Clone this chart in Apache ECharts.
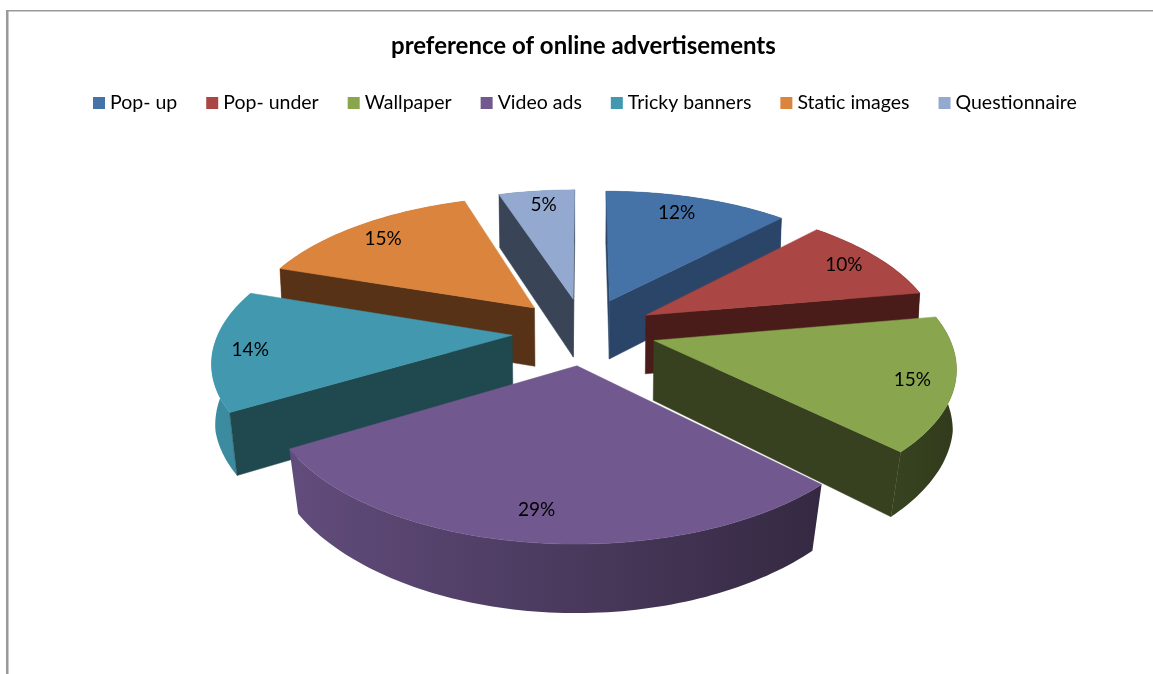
<!DOCTYPE html>
<html>
<head>
<meta charset="utf-8">
<style>html,body{margin:0;padding:0;background:#fff}#chart{width:1153px;height:674px}</style>
<script src="https://cdn.jsdelivr.net/npm/echarts@6/dist/echarts.min.js"></script>
</head>
<body>
<div id="chart"></div>
<script>
// Chart content
const chartTitle = 'preference of online advertisements';
const categories = ['Pop- up', 'Pop- under', 'Wallpaper', 'Video ads', 'Tricky banners', 'Static images', 'Questionnaire'];
const shares = [12, 10, 15, 29, 14, 15, 5];

// Slice styling: top face, cut-face colour, stacking order (back slices first)
const topColors = ['#4572a7', '#aa4643', '#89a54e', '#71588f', '#4198af', '#db843d', '#93a9cf'];
const cutColors = ['#2a4567', '#491b19', '#37401f', '#2e2340', '#20484f', '#583216', '#394556'];
const paintOrder = [2, 4, 6, 7, 5, 3, 1];
// Small pixel adjustments so each percentage sits clear of the slice edges
const labelNudge = [[-8, 0], [3, 0], [7, 5], [-11, 0], [-11, 0], [-1, 1], [2, -1]];

// Exploded pie projection
const view = {
  cx: 584, cy: 331, radius: 293, explode: 72, tilt: 0.466, depth: 1800,
  frontTurn: 2 * Math.PI / 180,
  floorXSide: 0.99, floorXSideAt: 370, floorXFalloff: 0.00025,
  floorYScale: 1.045, floorYRef: 300, floorYAt: 358,
  labelAt: 0.84, shadeFrom: 212, shadeTo: 957, shadeLeft: 0.92, shadeRight: 0.36
};

const total = shares.reduce((a, b) => a + b, 0);

function project(x, y) {
  const s = 1 / (1 + y / view.depth);
  return [view.cx + x * s, view.cy - view.tilt * y * s];
}
// Maps a point of the top surface to the matching point on the underside;
// nearer points converge a little more toward the centre line
function toFloor(p) {
  const fx = Math.min(view.floorXSide, view.floorXSide - view.floorXFalloff * (p[1] - view.floorXSideAt));
  return [
    view.cx + (p[0] - view.cx) * fx,
    view.floorYAt + (p[1] - view.floorYRef) * view.floorYScale
  ];
}
// The perspective of the rim pulls angles on the near side slightly clockwise
function rimAngle(a) {
  return a + view.frontTurn * (1 - Math.cos(a)) / 2;
}
function scaleColor(hex, f) {
  const n = parseInt(hex.slice(1), 16);
  const c = [n >> 16, (n >> 8) & 255, n & 255].map(v => Math.round(v * f));
  return 'rgb(' + c.join(',') + ')';
}
function signedArea(pts) {
  let a = 0;
  pts.forEach((p, i) => {
    const q = pts[(i + 1) % pts.length];
    a += p[0] * q[1] - q[0] * p[1];
  });
  return a / 2;
}
function sliceShapes(index, value) {
  const before = shares.slice(0, index).reduce((a, b) => a + b, 0);
  const a0 = before / total * Math.PI * 2;
  const a1 = (before + value) / total * Math.PI * 2;
  const mid = (a0 + a1) / 2;
  const ox = view.explode * Math.sin(mid);
  const oy = view.explode * Math.cos(mid);
  const apex = project(ox, oy);
  const rim = [];
  const steps = Math.max(12, Math.round(value * 3));
  for (let i = 0; i <= steps; i++) {
    const a = rimAngle(a0 + (a1 - a0) * i / steps);
    rim.push(project(ox + view.radius * Math.sin(a), oy + view.radius * Math.cos(a)));
  }
  const label = project(
    ox + view.radius * view.labelAt * Math.sin(mid),
    oy + view.radius * view.labelAt * Math.cos(mid)
  );
  return { apex, rim, label };
}

function polygon(points, fill, stroke) {
  return {
    type: 'polygon',
    shape: { points },
    style: { fill, stroke: stroke || fill, lineWidth: 0.5 },
    silent: true
  };
}

function renderSlice(index) {
  return function (params, api) {
    const value = api.value(0);
    const { apex, rim, label } = sliceShapes(index, value);
    const children = [];
    const base = topColors[index];

    // outer wall, shaded from left to right across the whole pie
    const wall = rim.concat(rim.slice().reverse().map(toFloor));
    children.push(polygon(wall, {
      type: 'linear', global: true,
      x: view.shadeFrom, y: 0, x2: view.shadeTo, y2: 0,
      colorStops: [
        { offset: 0, color: scaleColor(base, view.shadeLeft) },
        { offset: 1, color: scaleColor(base, view.shadeRight) }
      ]
    }, 'transparent'));

    // cut faces, culled when they turn away from the viewer
    const first = rim[0];
    const last = rim[rim.length - 1];
    const startFace = [apex, first, toFloor(first), toFloor(apex)];
    const endFace = [apex, last, toFloor(last), toFloor(apex)];
    if (signedArea(startFace) < 0) children.push(polygon(startFace, cutColors[index]));
    if (signedArea(endFace) > 0) children.push(polygon(endFace, cutColors[index]));

    // top face and its percentage
    children.push(polygon([apex].concat(rim), base));
    children.push({
      type: 'text',
      silent: true,
      style: {
        x: label[0] + labelNudge[index][0],
        y: label[1] + labelNudge[index][1],
        text: Math.round(value / total * 100) + '%',
        fill: '#000',
        font: '19px Lato',
        align: 'center',
        verticalAlign: 'middle'
      }
    });
    return { type: 'group', children };
  };
}

const chart = echarts.init(document.getElementById('chart'), null, { renderer: 'canvas' });
chart.setOption({
  animation: false,
  backgroundColor: '#fff',
  color: topColors,
  title: {
    text: chartTitle,
    left: 391,
    top: 34,
    padding: 0,
    textStyle: { fontFamily: 'Lato', fontSize: 24, fontWeight: 'bold', color: '#000' }
  },
  legend: {
    data: categories,
    left: 93,
    top: 93,
    padding: 0,
    itemGap: 29,
    itemWidth: 12,
    itemHeight: 12,
    icon: 'rect',
    selectedMode: false,
    textStyle: { fontFamily: 'Lato', fontSize: 19.5, color: '#000' }
  },
  graphic: [
    { type: 'rect', silent: true, shape: { x: 6, y: 10, width: 2.5, height: 664 }, style: { fill: '#999' } },
    { type: 'rect', silent: true, shape: { x: 6, y: 10, width: 1147, height: 1.5 }, style: { fill: '#999' } }
  ],
  series: categories.map((name, i) => ({
    type: 'custom',
    name,
    coordinateSystem: 'none',
    z: paintOrder[i],
    silent: true,
    itemStyle: { color: topColors[i] },
    data: [[shares[i]]],
    renderItem: renderSlice(i)
  }))
});
</script>
</body>
</html>
